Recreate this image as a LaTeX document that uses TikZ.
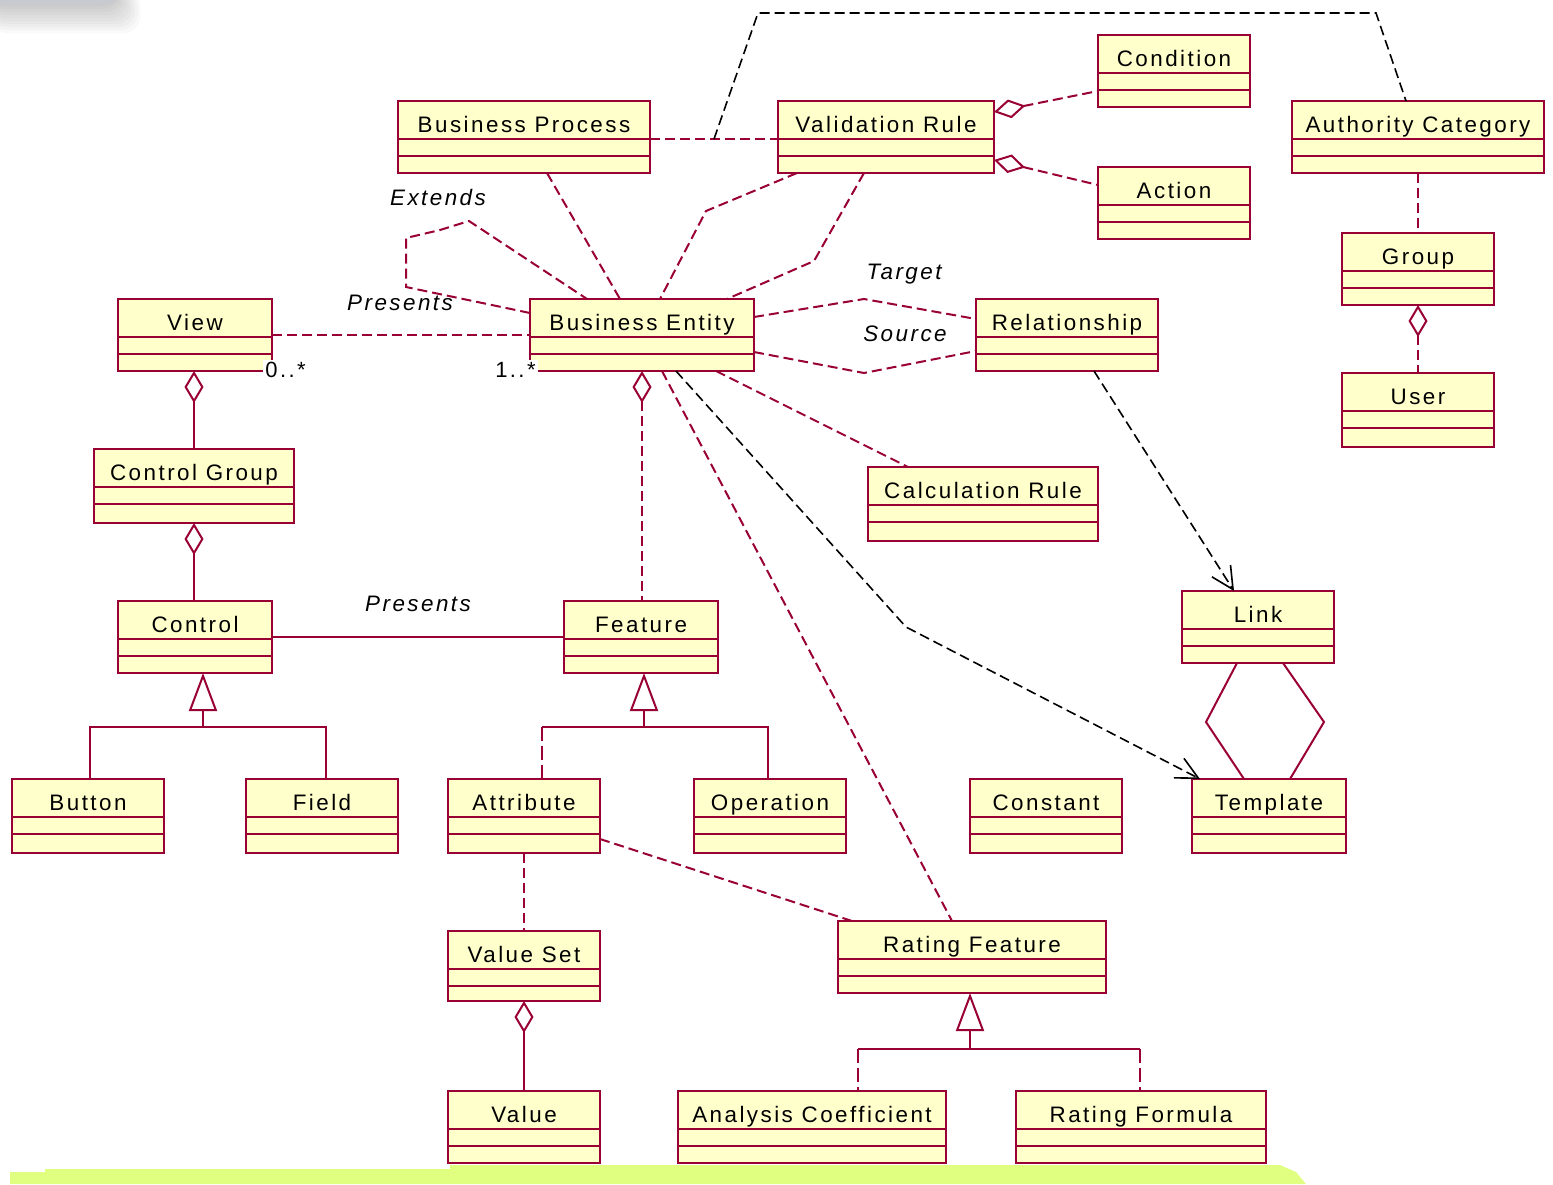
\documentclass[tikz,border=0pt]{standalone}
\usepackage{fontspec}
\setmainfont{Liberation Sans}[LetterSpace=11]
\usetikzlibrary{arrows.meta}
\definecolor{umlred}{RGB}{153,0,51}
\definecolor{umlfill}{RGB}{255,255,204}
\definecolor{bandgreen}{RGB}{224,255,128}
\definecolor{bargray}{RGB}{200,202,207}
\tikzset{
  clsbox/.style={draw=umlred, fill=umlfill, line width=1pt, inner sep=0pt, outer sep=0pt, anchor=north west},
  clstxt/.style={font=\fontsize{11.2}{13}\selectfont, anchor=base, inner sep=0pt},
  rolelbl/.style={font=\fontsize{11.2}{13}\selectfont\itshape, anchor=base, inner sep=0pt},
  multlbl/.style={font=\fontsize{11}{13}\selectfont, fill=white, inner sep=1pt},
  assoc/.style={draw=umlred, line width=1pt, dash pattern=on 5pt off 2.5pt},
  gendash/.style={draw=umlred, line width=1pt, dash pattern=on 7pt off 2.5pt},
  solidc/.style={draw=umlred, line width=1pt},
  depline/.style={draw=black, line width=0.8pt, dash pattern=on 5pt off 2.5pt},
  aggtip/.style={{Diamond[open, length=16pt, width=9.5pt]}-},
  gentip/.style={{Triangle[open, length=19pt, width=14pt]}-},
  deptip/.style={-{Straight Barb[length=11pt, width=11pt]}}
}
\newcommand\umlclass[6]{%
  \node[clsbox, minimum width={(#4-#2)*0.5pt}, minimum height={(#5-#3)*0.5pt}] (#1) at (#2,#3) {};
  \draw[umlred, line width=1pt] (#1.north west) ++(0,38) -- ++({#4-#2},0)
        (#1.north west) ++(0,55) -- ++({#4-#2},0);
  \node[clstxt] (#1-name) at ({(#2+#4)/2},{#3+31}) {#6};
}
\begin{document}
\begin{tikzpicture}[x=0.5pt,y=-0.5pt]
\useasboundingbox (0,0) rectangle (1553,1184);
% decorations
\foreach \s in {0,3,...,27} {
  \fill[black, opacity=0.022, rounded corners=8] (-10,-10) rectangle ({116+\s*0.9},{6+\s});
}
\fill[bargray, rounded corners=4] (-10,-10) rectangle (116,5);
\fill[bandgreen] (10,1184) -- (10,1172) -- (45,1172) -- (45,1169) -- (450,1169) -- (450,1165)
  -- (1280,1165) -- (1296,1172) -- (1306,1184) -- cycle;
% classes
\umlclass{bp}{398}{101}{650}{173}{Business Process}
\umlclass{vr}{778}{101}{994}{173}{Validation Rule}
\umlclass{cond}{1098}{35}{1250}{107}{Condition}
\umlclass{act}{1098}{167}{1250}{239}{Action}
\umlclass{auth}{1292}{101}{1544}{173}{Authority Category}
\umlclass{grp}{1342}{233}{1494}{305}{Group}
\umlclass{usr}{1342}{373}{1494}{447}{User}
\umlclass{view}{118}{299}{272}{371}{View}
\umlclass{be}{530}{299}{754}{371}{Business Entity}
\umlclass{rel}{976}{299}{1158}{371}{Relationship}
\umlclass{cg}{94}{449}{294}{523}{Control Group}
\umlclass{calc}{868}{467}{1098}{541}{Calculation Rule}
\umlclass{ctrl}{118}{601}{272}{673}{Control}
\umlclass{feat}{564}{601}{718}{673}{Feature}
\umlclass{link}{1182}{591}{1334}{663}{Link}
\umlclass{btn}{12}{779}{164}{853}{Button}
\umlclass{fld}{246}{779}{398}{853}{Field}
\umlclass{attr}{448}{779}{600}{853}{Attribute}
\umlclass{oper}{694}{779}{846}{853}{Operation}
\umlclass{const}{970}{779}{1122}{853}{Constant}
\umlclass{tmpl}{1192}{779}{1346}{853}{Template}
\umlclass{vs}{448}{931}{600}{1001}{Value Set}
\umlclass{rf}{838}{921}{1106}{993}{Rating Feature}
\umlclass{val}{448}{1091}{600}{1163}{Value}
\umlclass{ac}{678}{1091}{946}{1163}{Analysis Coefficient}
\umlclass{rform}{1016}{1091}{1266}{1163}{Rating Formula}
% connectors
\coordinate (bpvr) at (714,139);
\draw[assoc] (bp.east |- bpvr) -- (vr.west |- bpvr);
\draw[depline] (bpvr) -- (758,13) -- (1376,13) -- (auth.north -| 1406,0);
\draw[assoc] (bp.south -| 547,0) -- (be.north -| 620,0);
\draw[assoc] (vr.south -| 797,0) -- (706,211) -- (be.north -| 660,0);
\draw[assoc] (vr.south -| 864,0) -- (814,261) -- (be.north -| 727,0);
\draw[assoc] (be.west |- 0,313) -- (406,287) -- (406,238) -- (440,230) -- (469,221) -- (be.north -| 587,0);
\node[rolelbl] (lext) at (438,205) {Extends};
\draw[assoc] (view.east |- 0,335) -- (be.west |- 0,335);
\node[rolelbl] (lpres1) at (400,310) {Presents};
\node[multlbl, anchor=base west] (m0) at (263,377) {0..*};
\node[multlbl, anchor=base east] (m1) at (538,377) {1..*};
\draw[assoc, aggtip] (vr.east |- 0,112) -- (cond.west |- 0,91);
\draw[assoc, aggtip] (vr.east |- 0,160) -- (act.west |- 0,185);
\draw[assoc] (be.east |- 0,317) -- (864,299) -- (rel.west |- 0,319);
\draw[assoc] (be.east |- 0,352) -- (864,373) -- (rel.west |- 0,351);
\node[rolelbl] (ltgt) at (904,279) {Target};
\node[rolelbl] (lsrc) at (905,341) {Source};
\draw[depline, deptip] (rel.south -| 1094,0) -- (link.north -| 1234,0);
\draw[depline, deptip] (be.south -| 676,0) -- (906,627) -- (tmpl.north -| 1200,0);
\draw[assoc] (be.south -| 716,0) -- (calc.north -| 908,0);
\draw[assoc, aggtip] (be.south -| 642,0) -- (feat.north -| 642,0);
\draw[assoc] (be.south -| 662,0) -- (rf.north -| 952,0);
\draw[solidc] (link.south -| 1237,0) -- (1206,722) -- (tmpl.north -| 1244,0);
\draw[solidc] (link.south -| 1283,0) -- (1324,722) -- (tmpl.north -| 1290,0);
\draw[assoc] (auth.south -| grp.north) -- (grp.north);
\draw[assoc, aggtip] (grp.south) -- (usr.north);
\draw[solidc, aggtip] (view.south -| 194,0) -- (cg.north);
\draw[solidc, aggtip] (cg.south) -- (ctrl.north -| cg.south);
\draw[solidc] (ctrl.east |- 0,637) -- (feat.west |- 0,637);
\node[rolelbl] (lpres2) at (418,611) {Presents};
% generalizations
\coordinate (cjoin) at (203,727);
\draw[solidc, gentip] (ctrl.south -| cjoin) -- (cjoin);
\draw[solidc] (btn.north -| 90,0) |- (cjoin) -| (fld.north -| 326,0);
\coordinate (fjoin) at (644,727);
\draw[solidc, gentip] (feat.south -| fjoin) -- (fjoin);
\draw[solidc] (fjoin) -| (oper.north -| 768,0);
\draw[solidc] (fjoin) -- (542,727);
\draw[gendash] (542,727) -- (attr.north -| 542,0);
\coordinate (rjoin) at (970,1049);
\draw[solidc, gentip] (rf.south -| rjoin) -- (rjoin);
\draw[solidc] (858,1049) -- (1140,1049);
\draw[gendash] (858,1049) -- (ac.north -| 858,0);
\draw[gendash] (1140,1049) -- (rform.north -| 1140,0);
% other associations
\draw[assoc] (attr.south -| 524,0) -- (vs.north -| 524,0);
\draw[assoc] (attr.east |- 0,839) -- (rf.north -| 852,0);
\draw[solidc, aggtip] (vs.south -| 524,0) -- (val.north -| 524,0);
\end{tikzpicture}
\end{document}
